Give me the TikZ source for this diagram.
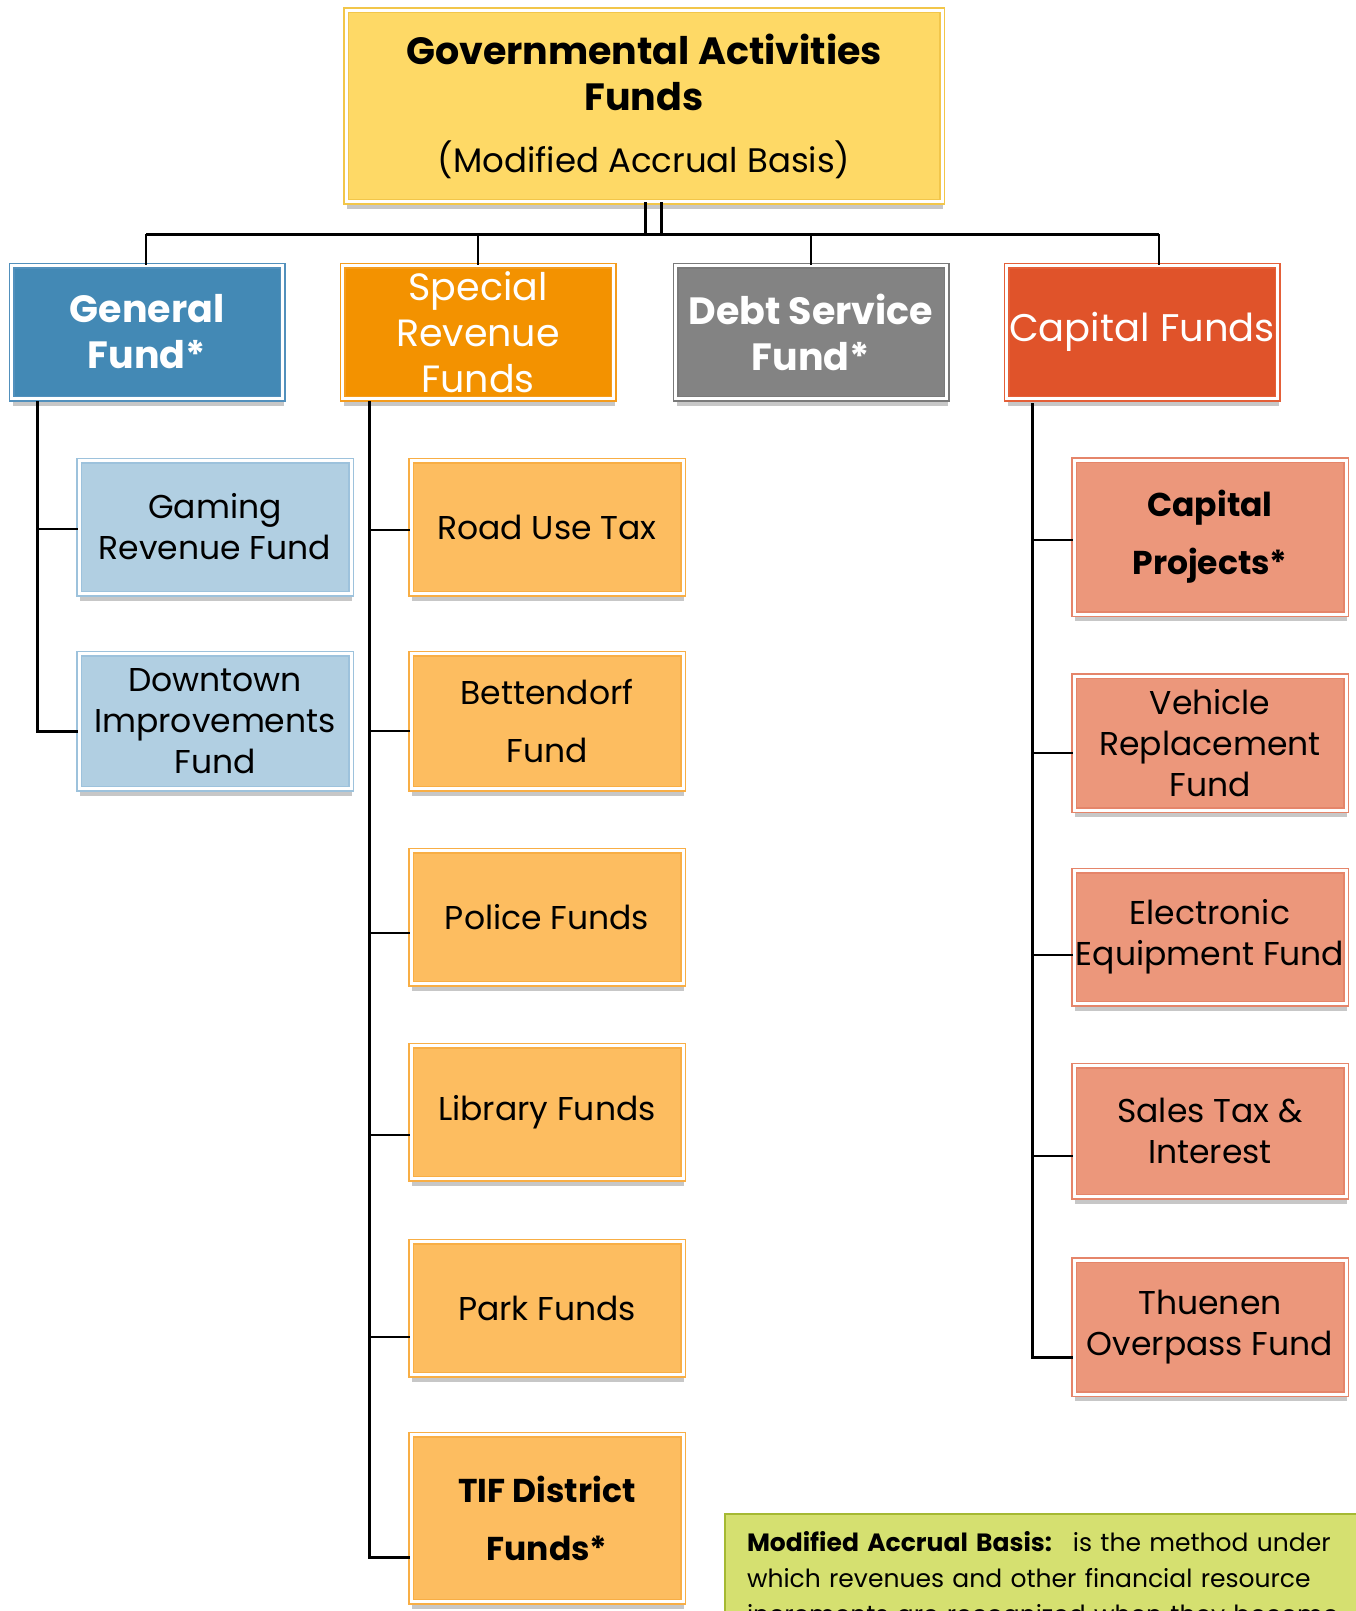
\documentclass[tikz,border=0pt]{standalone}
\usepackage{fontspec}
\setmainfont{Poppins}
\usetikzlibrary{calc, shadows}

\definecolor{topfill}{HTML}{FED966}
\definecolor{topline}{HTML}{F2C64A}
\definecolor{genfill}{HTML}{4389B5}
\definecolor{genline}{HTML}{5290BC}
\definecolor{spfill}{HTML}{F39200}
\definecolor{spline}{HTML}{F49C1E}
\definecolor{debtfill}{HTML}{838383}
\definecolor{debtline}{HTML}{7A7A7A}
\definecolor{capfill}{HTML}{E0532A}
\definecolor{capline}{HTML}{E45F38}
\definecolor{bluekid}{HTML}{B1CFE2}
\definecolor{bluekidline}{HTML}{9DC2DC}
\definecolor{orgkid}{HTML}{FDBD60}
\definecolor{orgkidline}{HTML}{F8AE45}
\definecolor{salkid}{HTML}{EC977B}
\definecolor{salkidline}{HTML}{E5856A}
\definecolor{notefill}{HTML}{D5E070}
\definecolor{noteline}{HTML}{A5B933}

\tikzset{
  fund/.style={rectangle, draw=#1, line width=1.5pt, double=white,
    double distance=3pt, inner sep=0pt, align=center,
    drop shadow={shadow xshift=1pt, shadow yshift=-7pt, opacity=0.4, fill=black!55}},
  headbox/.style={fund=#1, minimum width=271pt, minimum height=133pt,
    text=white, font=\fontsize{38}{46}\selectfont},
  kidbox/.style={fund=#1, minimum width=272pt, minimum height=133pt,
    font=\fontsize{33}{41}\selectfont},
  conn/.style={line width=3pt, black},
  stub/.style={line width=2.5pt, black}
}

\begin{document}
\begin{tikzpicture}[x=1pt, y=-1pt]
  \path[use as bounding box] (0,0) rectangle (1356,1611);
  \clip (0,0) rectangle (1356,1611);

  % top of the tree
  \node[fund=topline, fill=topfill, minimum width=596pt, minimum height=191pt,
    font=\fontsize{38}{46}\selectfont] (top) at (644,106)
    {\textbf{Governmental Activities}\\\textbf{Funds}\\[16pt]{\fontsize{34}{46}\selectfont(Modified Accrual Basis)}};

  % second row
  \node[headbox=genline, fill=genfill] (gen) at (147,332) {\textbf{General}\\\textbf{Fund*}};
  \node[headbox=spline, fill=spfill] (spec) at (478,332) {Special\\Revenue\\Funds};
  \node[headbox=debtline, fill=debtfill] (debt) at (811,332) {\textbf{Debt Service}\\\textbf{Fund*}};
  \node[headbox=capline, fill=capfill, font=\fontsize{38.5}{46}\selectfont] (cap) at (1142,332) {Capital Funds};

  % general fund
  \node[kidbox=bluekidline, fill=bluekid] (gaming) at (215,527) {Gaming\\Revenue Fund};
  \node[kidbox=bluekidline, fill=bluekid, minimum height=135pt] (downtown) at (215,721) {Downtown\\Improvements\\Fund};

  % special revenue funds
  \node[kidbox=orgkidline, fill=orgkid] (road) at (547,527) {Road Use Tax};
  \node[kidbox=orgkidline, fill=orgkid, minimum height=135pt] (bett) at (547,721) {Bettendorf\\[17pt]Fund};
  \node[kidbox=orgkidline, fill=orgkid] (police) at (547,917) {Police Funds};
  \node[kidbox=orgkidline, fill=orgkid] (library) at (547,1112) {Library Funds};
  \node[kidbox=orgkidline, fill=orgkid] (park) at (547,1308) {Park Funds};
  \node[kidbox=orgkidline, fill=orgkid, minimum height=167pt] (tif) at (547,1518) {\textbf{TIF District}\\[17pt]\textbf{Funds*}};

  % capital funds
  \node[kidbox=salkidline, fill=salkid, minimum height=154pt] (proj) at (1210,537) {\textbf{Capital}\\[17pt]\textbf{Projects*}};
  \node[kidbox=salkidline, fill=salkid, minimum height=134pt] (vehicle) at (1210,743) {Vehicle\\Replacement\\Fund};
  \node[kidbox=salkidline, fill=salkid] (elec) at (1210,937) {Electronic\\Equipment Fund};
  \node[kidbox=salkidline, fill=salkid, minimum height=131pt] (sales) at (1210,1131) {Sales Tax \&\\Interest};
  \node[kidbox=salkidline, fill=salkid, minimum height=134pt] (thuenen) at (1210,1327) {Thuenen\\Overpass Fund};

  % note
  \node[rectangle, draw=noteline, line width=2pt, fill=notefill, anchor=north west,
    text width=656pt, minimum height=120pt, inner xsep=22pt, inner ysep=17pt,
    align=left, font=\fontsize{25}{36}\selectfont] (note) at (724,1513)
    {\textbf{Modified Accrual Basis:}~ is the method under\\
     which revenues and other financial resource\\
     increments are recognized when they become};

  % connectors
  \coordinate (busL) at (146,234);
  \coordinate (busR) at (1159,234);
  \coordinate (dropA) at ($(top.south)+(1,0)$);
  \coordinate (dropB) at ($(top.south)+(17,0)$);
  \draw[conn] (dropA) -- (dropA |- busL);
  \draw[conn] (dropB) -- (dropB |- busL);
  \draw[conn] (busL) -- (busR);
  \draw[stub] (busL) -- (busL |- gen.north);
  \draw[stub] (spec.north |- busL) -- (spec.north);
  \draw[stub] (debt.north |- busL) -- (debt.north);
  \draw[stub] (busR) -- (busR |- cap.north);

  \coordinate (genT) at (37,401);
  \draw[conn] (genT) |- ($(downtown.west)+(0,10)$);
  \draw[stub] (genT) |- ($(gaming.west)+(0,2)$);

  \coordinate (specT) at (369,401);
  \draw[conn] (specT) |- ($(tif.west)+(0,39)$);
  \draw[stub] (specT) |- ($(road.west)+(0,3)$);
  \draw[stub] (specT) |- ($(bett.west)+(0,10)$);
  \draw[stub] (specT) |- ($(police.west)+(0,16)$);
  \draw[stub] (specT) |- ($(library.west)+(0,23)$);
  \draw[stub] (specT) |- ($(park.west)+(0,29)$);

  \coordinate (capT) at (1032,403);
  \draw[conn] (capT) |- ($(thuenen.west)+(0,30)$);
  \draw[stub] (capT) |- ($(proj.west)+(0,3)$);
  \draw[stub] (capT) |- ($(vehicle.west)+(0,10)$);
  \draw[stub] (capT) |- ($(elec.west)+(0,18)$);
  \draw[stub] (capT) |- ($(sales.west)+(0,25)$);
\end{tikzpicture}
\end{document}
